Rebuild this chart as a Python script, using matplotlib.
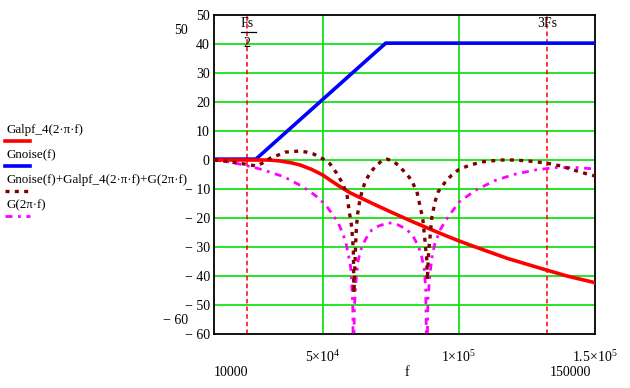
import matplotlib
matplotlib.use('Agg')
import matplotlib.pyplot as plt
import matplotlib.transforms as mtransforms
from matplotlib.lines import Line2D

plt.rcParams['font.family'] = ['Liberation Serif', 'DejaVu Serif']
plt.rcParams['mathtext.fontset'] = 'custom'
plt.rcParams['mathtext.rm'] = 'Liberation Serif'
plt.rcParams['mathtext.default'] = 'regular'

# sample rate used for the markers
Fs = 44100

# Galpf_4(2*pi*f), values
f_alpf = [10000, 22000, 30000, 34000, 38000, 41600, 46000, 50000, 52600, 56000,
          60000, 68000, 75400, 82800, 90100, 93900, 100000, 105500, 117700,
          132000, 139700, 150000]
g_alpf = [0.0, 0.0, 0.0, -0.3, -0.9, -1.7, -3.3, -5.2, -6.9, -9.0,
          -11.3, -14.9, -18.1, -21.2, -24.1, -25.6, -27.9, -29.8, -33.9,
          -37.9, -40.0, -42.3]

# Gnoise(f)
f_noise = [10000, 25400, 73100, 150000]
g_noise = [0.3, 0.3, 40.3, 40.3]

# G(2*pi*f)
f_g = [10000, 15000, 20000, 24400, 28100, 31800, 35500, 38600, 42200, 45300,
       47700, 50800, 53300, 55700, 57300, 58500, 59400, 60200, 60600, 61000,
       61200, 61600, 62200, 63000, 64300, 65900, 68000, 70400, 74100, 77700,
       80800, 83200, 85100, 86300, 87300, 87800, 88200, 88600, 89400, 90200,
       91200, 93100, 94900, 96500, 100200, 106300, 113700, 121000, 128400,
       135700, 143100, 150000]
g_g = [0.0, -0.6, -1.5, -2.5, -3.4, -4.6, -5.7, -7.2, -9.0, -10.9,
       -12.6, -15.2, -18.4, -21.8, -25.3, -28.7, -32.8, -36.8, -42.5, -50.6,
       -75.0, -50.6, -41.4, -34.5, -29.9, -27.0, -24.1, -22.8, -21.6, -22.4,
       -23.9, -26.4, -29.7, -33.3, -37.9, -44.8, -75.0, -48.0, -39.0, -32.8,
       -28.7, -24.1, -21.2, -19.0, -14.4, -10.3, -6.9, -4.8, -3.4,
       -2.6, -2.6, -3.1]

# Gnoise(f)+Galpf_4(2*pi*f)+G(2*pi*f)
f_sum = [10000, 15000, 20000, 23200, 25700, 28100, 30600, 33600, 36100, 38600,
         41600, 44100, 46500, 50200, 52600, 55100, 56900, 58800, 59700, 60600,
         61200, 61400, 62200, 62700, 63700, 65500, 67300, 69200, 71600, 73500,
         75700, 77700, 80800, 82700, 84700, 86000, 86700, 87500, 88200, 88400,
         88900, 89400, 90000, 91200, 92400, 95500, 97400, 99800, 104100,
         109000, 115100, 120600, 126100, 132300, 137200, 142000, 147000, 150000]
g_sum = [0.0, -0.5, -1.2, -1.7, -2.1, -0.9, 0.6, 1.7, 2.7, 2.9,
         3.1, 2.7, 2.1, 0.3, -1.3, -4.6, -7.5, -11.5, -17.8, -23.0,
         -31.0, -45.9, -25.3, -19.0, -13.2, -7.5, -4.6, -2.3, -0.3, 0.3,
         -0.3, -1.8, -4.9, -7.1, -11.5, -17.2, -20.1, -27.6, -34.5, -41.4,
         -31.0, -26.4, -20.1, -14.4, -10.9, -6.9, -5.2, -3.4, -1.7,
         -0.6, 0.0, 0.0, -0.4, -1.1, -2.0, -3.4, -4.8, -5.5]

y_ticks = [50, 40, 30, 20, 10, 0, -10, -20, -30, -40, -50, -60]
x_ticks = [50000, 100000, 150000]
x_labels = [r'5$\times$10$^{4}$', r'1$\times$10$^{5}$', r'1.5$\times$10$^{5}$']

W, H = 630, 388
fig = plt.figure(figsize=(6.3, 3.88), dpi=100)
ax = fig.add_axes([214 / W, (H - 334) / H, (595 - 214) / W, (334 - 15) / H])

ax.set_xlim(10000, 150000)
ax.set_ylim(-60, 50)

for yv in y_ticks[1:-1]:
    ax.axhline(yv, color='#00e000', lw=1.2, zorder=1)
for xv in x_ticks[:-1]:
    ax.axvline(xv, color='#00e000', lw=1.2, zorder=1)

ax.axvline(Fs / 2, color='#ff0000', lw=1.1, ls=(0, (3, 2)), zorder=2)
ax.axvline(3 * Fs, color='#ff0000', lw=1.1, ls=(0, (3, 2)), zorder=2)

ax.plot(f_noise, g_noise, color='#0000ff', lw=2.6, zorder=4)
ax.plot(f_alpf, g_alpf, color='#ff0000', lw=2.6, zorder=4)
ax.plot(f_sum, g_sum, color='#800000', lw=2.4, ls=(0, (1.2, 1.6)), zorder=5)
ax.plot(f_g, g_g, color='#ff00ff', lw=2.0, ls=(0, (2.5, 2, 1, 2)), zorder=3)

ax.set_yticks(y_ticks)
ax.set_yticklabels([str(v) if v >= 0 else '\u2212 ' + str(-v) for v in y_ticks])
ax.set_xticks(x_ticks)
ax.set_xticklabels(x_labels)
ax.tick_params(length=0, labelsize=10)
ax.tick_params(axis='y', pad=3)
ax.tick_params(axis='x', pad=11)
for s in ax.spines.values():
    s.set_linewidth(1.3)

# markers for Fs/2 and 3Fs
trans = mtransforms.blended_transform_factory(ax.transData, ax.transAxes)
ax.text(Fs / 2, 1 - 8 / 319, 'Fs', transform=trans, ha='center', va='center', fontsize=10)
ax.plot([Fs / 2 - 2200, Fs / 2 + 3200], [1 - 17 / 319] * 2, transform=trans,
        color='black', lw=0.9, clip_on=False)
ax.text(Fs / 2, 1 - 28 / 319, '2', transform=trans, ha='center', va='center', fontsize=10)
ax.text(3 * Fs, 1 - 8 / 319, '3Fs', transform=trans, ha='center', va='center', fontsize=10)

# Mathcad limit labels
fig.text(188 / W, 1 - 30 / H, '50', ha='right', va='center', fontsize=10)
fig.text(188 / W, 1 - 321 / H, '\u2212 60', ha='right', va='center', fontsize=10)
fig.text(231 / W, 1 - 372 / H, '10000', ha='center', va='center', fontsize=10)
fig.text(407 / W, 1 - 372 / H, 'f', ha='center', va='center', fontsize=10)
fig.text(570 / W, 1 - 372 / H, '150000', ha='center', va='center', fontsize=10)

# legend (text with line sample underneath)
legend = [('Galpf_4(2\u00b7\u03c0\u00b7f)', '#ff0000', '-', 2.6),
          ('Gnoise(f)', '#0000ff', '-', 2.6),
          ('Gnoise(f)+Galpf_4(2\u00b7\u03c0\u00b7f)+G(2\u03c0\u00b7f)', '#800000', (0, (1.2, 1.6)), 2.4),
          ('G(2\u03c0\u00b7f)', '#ff00ff', (0, (2.5, 2, 1, 2)), 2.0)]
for i, (lab, col, ls, lw) in enumerate(legend):
    ty = 130 + 25 * i
    fig.text(6 / W, 1 - ty / H, lab, ha='left', va='center', fontsize=9.4)
    fig.add_artist(Line2D([5 / W, 30 / W], [1 - (ty + 11) / H] * 2,
                          color=col, ls=ls, lw=lw))

fig.savefig('out.png', dpi=100)
